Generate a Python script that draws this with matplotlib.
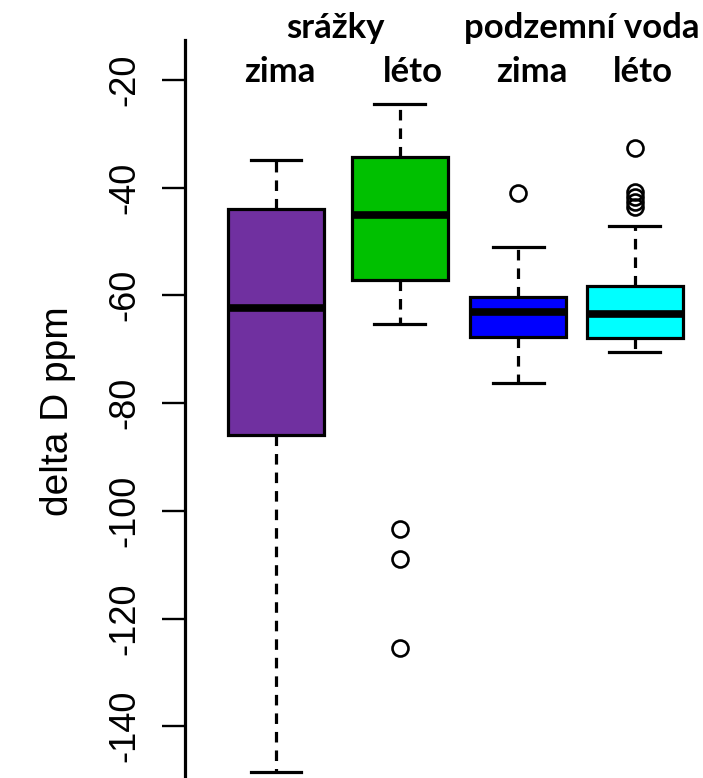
import matplotlib
matplotlib.use("Agg")
import matplotlib.pyplot as plt

# ---- Box statistics (delta D, ppm) ----
groups = ["srážky zima", "srážky léto", "podzemní voda zima", "podzemní voda léto"]
whisker_hi = [-34.9, -24.5, -51.1, -47.1]
q3 = [-44.0, -34.3, -60.3, -58.3]
medians = [-62.3, -45.0, -63.1, -63.5]
q1 = [-85.9, -57.2, -67.7, -67.9]
whisker_lo = [-148.5, -65.4, -76.3, -70.6]
outliers = [
    [],
    [-103.4, -109.0, -125.5],
    [-41.0],
    [-32.6, -40.8, -41.7, -42.6, -43.6],
]
colors = ["#7030a0", "#00c000", "#0000ff", "#00ffff"]
yticks = [-20, -40, -60, -80, -100, -120, -140]

stats = []
for i, name in enumerate(groups):
    stats.append({
        "label": name,
        "whislo": whisker_lo[i],
        "q1": q1[i],
        "med": medians[i],
        "q3": q3[i],
        "whishi": whisker_hi[i],
        "fliers": outliers[i],
    })

W, H = 703, 778
fig = plt.figure(figsize=(W / 100, H / 100), dpi=100)
ax = fig.add_axes([185 / W, 0, (W - 185) / W, (H - 40) / H])

positions = [1.0, 2.03, 3.02, 3.99]
bp = ax.bxp(
    stats,
    positions=positions,
    widths=0.8,
    capwidths=0.42,
    patch_artist=True,
    showfliers=True,
    boxprops=dict(linewidth=2.3, edgecolor="black"),
    medianprops=dict(color="black", linewidth=5.5, solid_capstyle="butt"),
    whiskerprops=dict(color="black", linewidth=2.3, linestyle=(0, (3.3, 2.5))),
    capprops=dict(color="black", linewidth=2.3),
    flierprops=dict(marker="o", markersize=11.5, markerfacecolor="none",
                    markeredgecolor="black", markeredgewidth=1.9),
)
for patch, c in zip(bp["boxes"], colors):
    patch.set_facecolor(c)

ax.set_xlim(0.24, 4.56)
ax.set_ylim(-149.6, -12.6)

for side in ["top", "right", "bottom"]:
    ax.spines[side].set_visible(False)
ax.spines["left"].set_linewidth(2.3)
ax.set_xticks([])
ax.set_yticks(yticks)
ax.set_yticklabels([str(v) for v in yticks], rotation=90, va="center",
                   family="Liberation Sans", fontsize=26)
ax.tick_params(axis="y", length=16.5, width=1.7, pad=14)

ax.set_ylabel("delta D ppm", family="Liberation Sans", fontsize=28)
ax.yaxis.set_label_coords(76 / W, 1 - 411 / H, transform=fig.transFigure)
ax.yaxis.label.set_verticalalignment("bottom")

# group headers
hdr = dict(family="Lato", fontweight="bold", fontsize=25, ha="center", va="baseline")
fig.text(335 / W, 1 - 38 / H, "srážky", **hdr)
fig.text(582 / W, 1 - 38 / H, "podzemní voda", **hdr)
for x, t in zip([280, 413, 532, 643], ["zima", "léto", "zima", "léto"]):
    fig.text(x / W, 1 - 82 / H, t, **hdr)

fig.savefig("out.png", dpi=100)
